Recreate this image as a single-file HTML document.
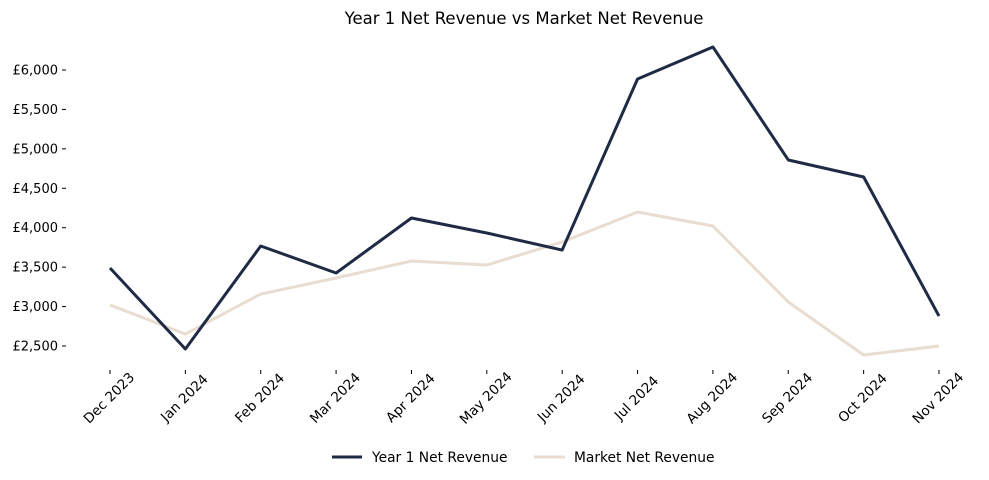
<!DOCTYPE html>
<html><head><meta charset="utf-8"><style>
body{margin:0;background:#fff;}
svg{display:block;font-family:"DejaVu Sans","Liberation Sans",sans-serif;}
</style></head><body>
<svg id="chart" width="989" height="480">
<text x="524" y="24" text-anchor="middle" font-size="16.5" fill="#000">Year 1 Net Revenue vs Market Net Revenue</text>
<g id="yaxis"></g>
<g id="xaxis"></g>
<g id="series"></g>
<g>
<g>
<line x1="332" y1="457" x2="362" y2="457" stroke="#1f2a44" stroke-width="3"/>
<text x="372" y="462" font-size="13.8" fill="#000">Year 1 Net Revenue</text></g>
<g>
<line x1="534" y1="457" x2="565" y2="457" stroke="#e8ddd0" stroke-width="3"/>
<text x="574" y="462" font-size="13.8" fill="#000">Market Net Revenue</text></g>
</g>
</svg>
<script>
const categories=["Dec 2023","Jan 2024","Feb 2024","Mar 2024","Apr 2024","May 2024","Jun 2024","Jul 2024","Aug 2024","Sep 2024","Oct 2024","Nov 2024"];
const year1Values=[3489,2462,3768,3426,4123,3933,3717,5886,6292,4859,4643,2880];
const marketValues=[3020,2652,3159,3362,3578,3527,3819,4199,4022,3058,2386,2500];
const yTicks=[2500,3000,3500,4000,4500,5000,5500,6000];
const NS="http://www.w3.org/2000/svg";
function x(i){return 110+i*(939-110)/(categories.length-1);}
function y(v){return 70+(6000-v)*(276/3500);}
function mk(t,a,p){const e=document.createElementNS(NS,t);for(const k in a)e.setAttribute(k,a[k]);p.appendChild(e);return e;}
const ya=document.getElementById('yaxis');
yTicks.forEach(v=>{
 const l=mk('line',{x1:62,x2:66,y1:y(v),y2:y(v),stroke:'#000','stroke-width':1},ya);
 
 
 const t=mk('text',{x:58,y:y(v)+4.5,'text-anchor':'end','font-size':13,fill:'#000'},ya);
 t.textContent='£'+v.toLocaleString('en-GB');
 
 
});
const xa=document.getElementById('xaxis');
categories.forEach((c,i)=>{
 const l=mk('line',{x1:x(i),x2:x(i),y1:370,y2:374,stroke:'#000','stroke-width':1},xa);
 
 
 const cx=x(i)-1, cy=398;
 const t=mk('text',{x:cx,y:cy+4.5,'text-anchor':'middle','font-size':13.6,fill:'#000',transform:`rotate(-45 ${cx} ${cy})`},xa);
 t.textContent=c;
 
 
});
const sg=document.getElementById('series');
function line(vals,color,name){
 const p=mk('polyline',{points:vals.map((v,i)=>x(i)+','+y(v)).join(' '),fill:'none',stroke:color,'stroke-width':3,'stroke-linejoin':'round'},sg);
 
 
}
line(marketValues,'#e8ddd0','market-net-revenue-line');
line(year1Values,'#1f2a44','year1-net-revenue-line');
</script>
</body></html>
